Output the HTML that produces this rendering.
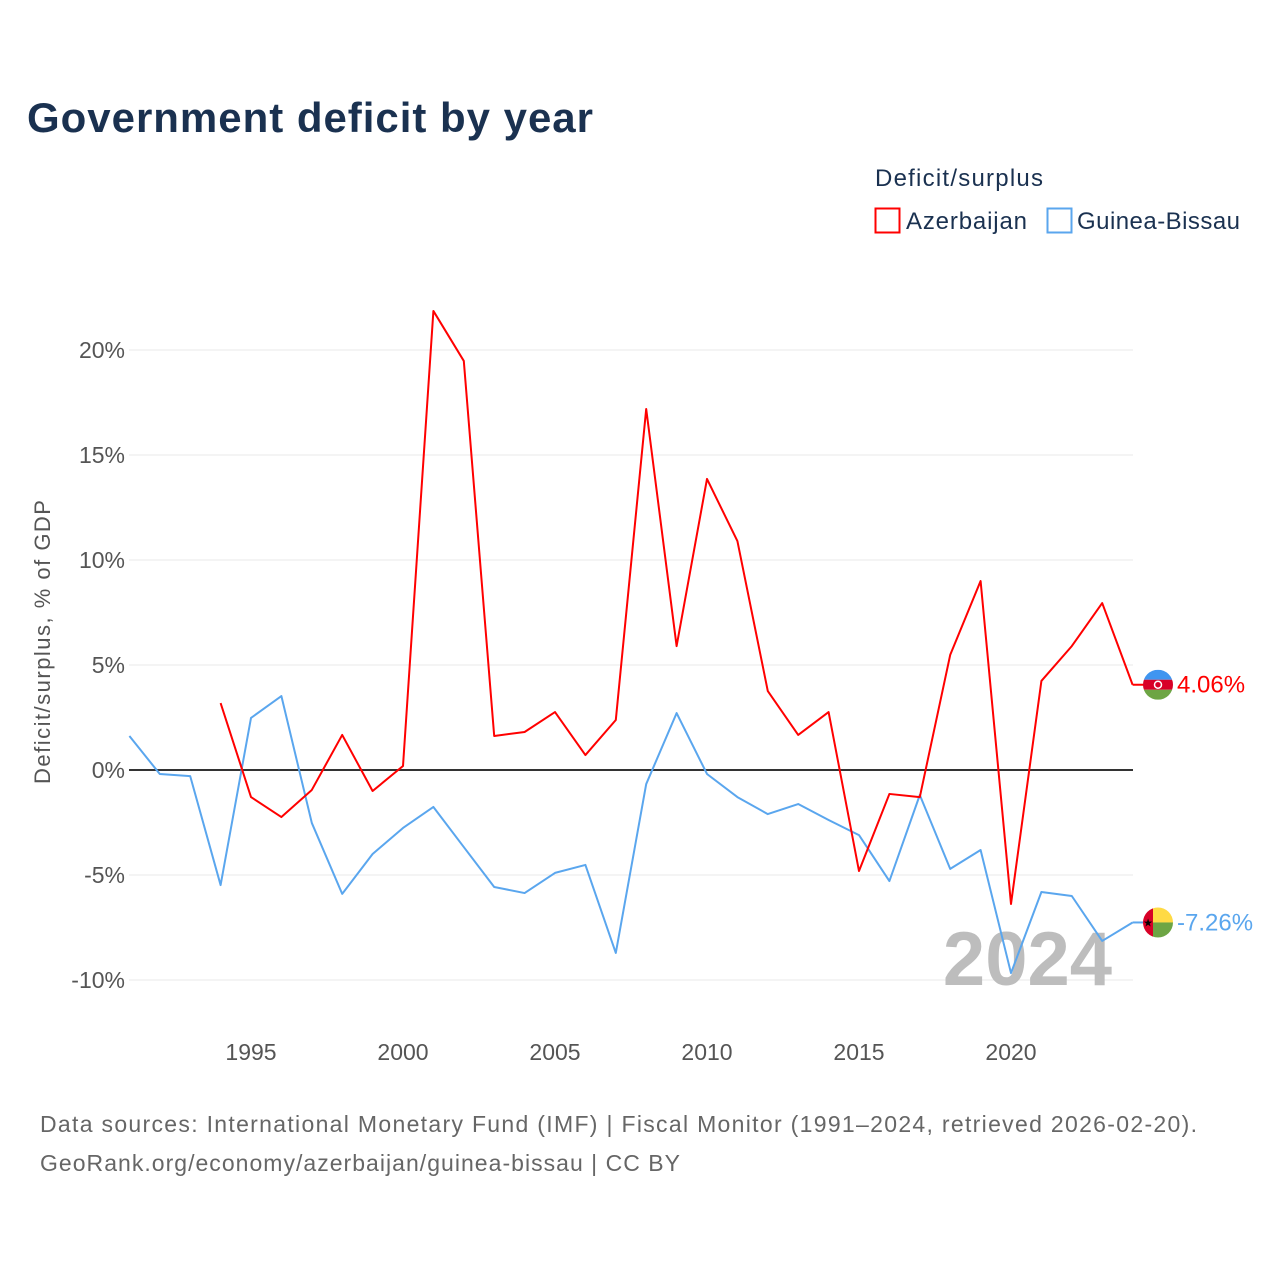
<!DOCTYPE html>
<html><head><meta charset="utf-8">
<style>
html,body{margin:0;padding:0;background:#fff;}
body{width:1280px;height:1280px;overflow:hidden;font-family:"Liberation Sans",sans-serif;}
</style></head>
<body>
<svg id="chart" width="1280" height="1280" xmlns="http://www.w3.org/2000/svg" font-family="Liberation Sans, sans-serif">
<text x="27" y="132" font-size="42" font-weight="bold" fill="#1a3150" textLength="566">Government deficit by year</text>
<text x="875" y="186" font-size="24" fill="#1a3150" textLength="168">Deficit/surplus</text>
<g>
<rect x="875.5" y="208.5" width="24" height="24" fill="none" stroke="#ff0000" stroke-width="2"/>
<text x="906" y="229" font-size="24" fill="#1a3150" textLength="121">Azerbaijan</text></g>
<g>
<rect x="1047.5" y="208.5" width="24" height="24" fill="none" stroke="#5aa6ee" stroke-width="2"/>
<text x="1077" y="229" font-size="24" fill="#1a3150" textLength="163">Guinea-Bissau</text></g>
<g id="grid"></g><g id="yticks"></g><g id="xticks"></g>
<text transform="translate(50,642) rotate(-90)" text-anchor="middle" font-size="22" fill="#555" textLength="284">Deficit/surplus, % of GDP</text>
<text x="1112" y="985" text-anchor="end" font-size="76" font-weight="bold" fill="#bdbdbd">2024</text>
<g id="lines"></g>
<g id="ends"></g>
<text x="40" y="1132" font-size="23" fill="#666" textLength="1157">Data sources: International Monetary Fund (IMF) | Fiscal Monitor (1991–2024, retrieved 2026-02-20).</text>
<text x="40" y="1171" font-size="23" fill="#666" textLength="640">GeoRank.org/economy/azerbaijan/guinea-bissau | CC BY</text>
</svg>
<script>
const azYears=[1994,1995,1996,1997,1998,1999,2000,2001,2002,2003,2004,2005,2006,2007,2008,2009,2010,2011,2012,2013,2014,2015,2016,2017,2018,2019,2020,2021,2022,2023,2024];
const azValues=[3.19,-1.29,-2.24,-0.95,1.67,-1.0,0.19,21.86,19.48,1.62,1.81,2.76,0.71,2.38,17.19,5.9,13.86,10.9,3.76,1.67,2.76,-4.81,-1.14,-1.29,5.48,9.0,-6.38,4.24,5.9,7.95,4.06];
const gbYears=[1991,1992,1993,1994,1995,1996,1997,1998,1999,2000,2001,2002,2003,2004,2005,2006,2007,2008,2009,2010,2011,2012,2013,2014,2015,2016,2017,2018,2019,2020,2021,2022,2023,2024];
const gbValues=[1.62,-0.19,-0.29,-5.48,2.48,3.52,-2.52,-5.9,-4.0,-2.76,-1.76,-3.67,-5.57,-5.86,-4.9,-4.52,-8.71,-0.67,2.71,-0.19,-1.29,-2.1,-1.62,-2.38,-3.1,-5.29,-1.19,-4.71,-3.81,-9.67,-5.81,-6.0,-8.14,-7.26];
const yTicks=[-10,-5,0,5,10,15,20];
const xTicks=[1995,2000,2005,2010,2015,2020];
const NS="http://www.w3.org/2000/svg";
function x(yr){return 251+(yr-1995)*30.4;}
function y(v){return 770-v*21;}
function mk(tag,attrs,parent){const e=document.createElementNS(NS,tag);for(const k in attrs)e.setAttribute(k,attrs[k]);document.getElementById(parent).appendChild(e);return e;}
yTicks.forEach(t=>{
  const l=mk('line',{x1:129,x2:1133,y1:y(t),y2:y(t),stroke:t===0?'#333':'#e8e8e8','stroke-width':t===0?2:1},'grid');
  
  
  const tx=mk('text',{x:125,y:y(t)+8,'text-anchor':'end','font-size':23,fill:'#555'},'yticks');
  tx.textContent=t+'%';
  
  
});
xTicks.forEach(t=>{
  const tx=mk('text',{x:x(t),y:1060,'text-anchor':'middle','font-size':23,fill:'#555'},'xticks');
  tx.textContent=t;
  
  
});
function line(yrs,vals,color,name){
  const p=mk('polyline',{points:yrs.map((yr,i)=>x(yr)+','+y(vals[i])).join(' '),fill:'none',stroke:color,'stroke-width':2,'stroke-linejoin':'round'},'lines');
  
  
}
line(gbYears,gbValues,'#5aa6ee','guinea-bissau-line');
line(azYears,azValues,'#ff0000','azerbaijan-line');
function end(yrs,vals,color,name,flag){
  const lv=vals[vals.length-1];
  const ly=y(lv);
  const l=mk('line',{x1:x(yrs[yrs.length-1]),y1:ly,x2:1144,y2:ly,stroke:color,'stroke-width':2},'ends');
  
  
  const g=mk('g',{},'ends');
  
  
  const cx=1158,r=15;
  const id='clip-'+name;
  const cp=document.createElementNS(NS,'clipPath');cp.setAttribute('id',id);
  const c=document.createElementNS(NS,'circle');c.setAttribute('cx',cx);c.setAttribute('cy',ly);c.setAttribute('r',r);cp.appendChild(c);g.appendChild(cp);
  const inner=document.createElementNS(NS,'g');inner.setAttribute('clip-path','url(#'+id+')');g.appendChild(inner);
  function r2(a){const e=document.createElementNS(NS,'rect');for(const k in a)e.setAttribute(k,a[k]);inner.appendChild(e);}
  if(flag==='az'){
    r2({x:cx-r,y:ly-r,width:30,height:10,fill:'#3f95f0'});
    r2({x:cx-r,y:ly-5,width:30,height:10,fill:'#d80027'});
    r2({x:cx-r,y:ly+5,width:30,height:10,fill:'#6da544'});
    const m=document.createElementNS(NS,'circle');m.setAttribute('cx',cx);m.setAttribute('cy',ly);m.setAttribute('r',3.5);m.setAttribute('fill','none');m.setAttribute('stroke','#fff');m.setAttribute('stroke-width',1.5);inner.appendChild(m);
  }else{
    r2({x:cx-r,y:ly-r,width:10,height:30,fill:'#d80027'});
    r2({x:cx-5,y:ly-r,width:20,height:15,fill:'#ffda44'});
    r2({x:cx-5,y:ly,width:20,height:15,fill:'#6da544'});
    const s=document.createElementNS(NS,'text');s.setAttribute('x',cx-10);s.setAttribute('y',ly+4);s.setAttribute('font-size',11);s.setAttribute('text-anchor','middle');s.textContent='★';inner.appendChild(s);
  }
  const t=mk('text',{x:1177,y:ly+8,'font-size':24,fill:color},'ends');
  t.textContent=lv.toFixed(2)+'%';
  
  
}
end(azYears,azValues,'#ff0000','azerbaijan','az');
end(gbYears,gbValues,'#5aa6ee','guinea-bissau','gb');
</script>
</body></html>
